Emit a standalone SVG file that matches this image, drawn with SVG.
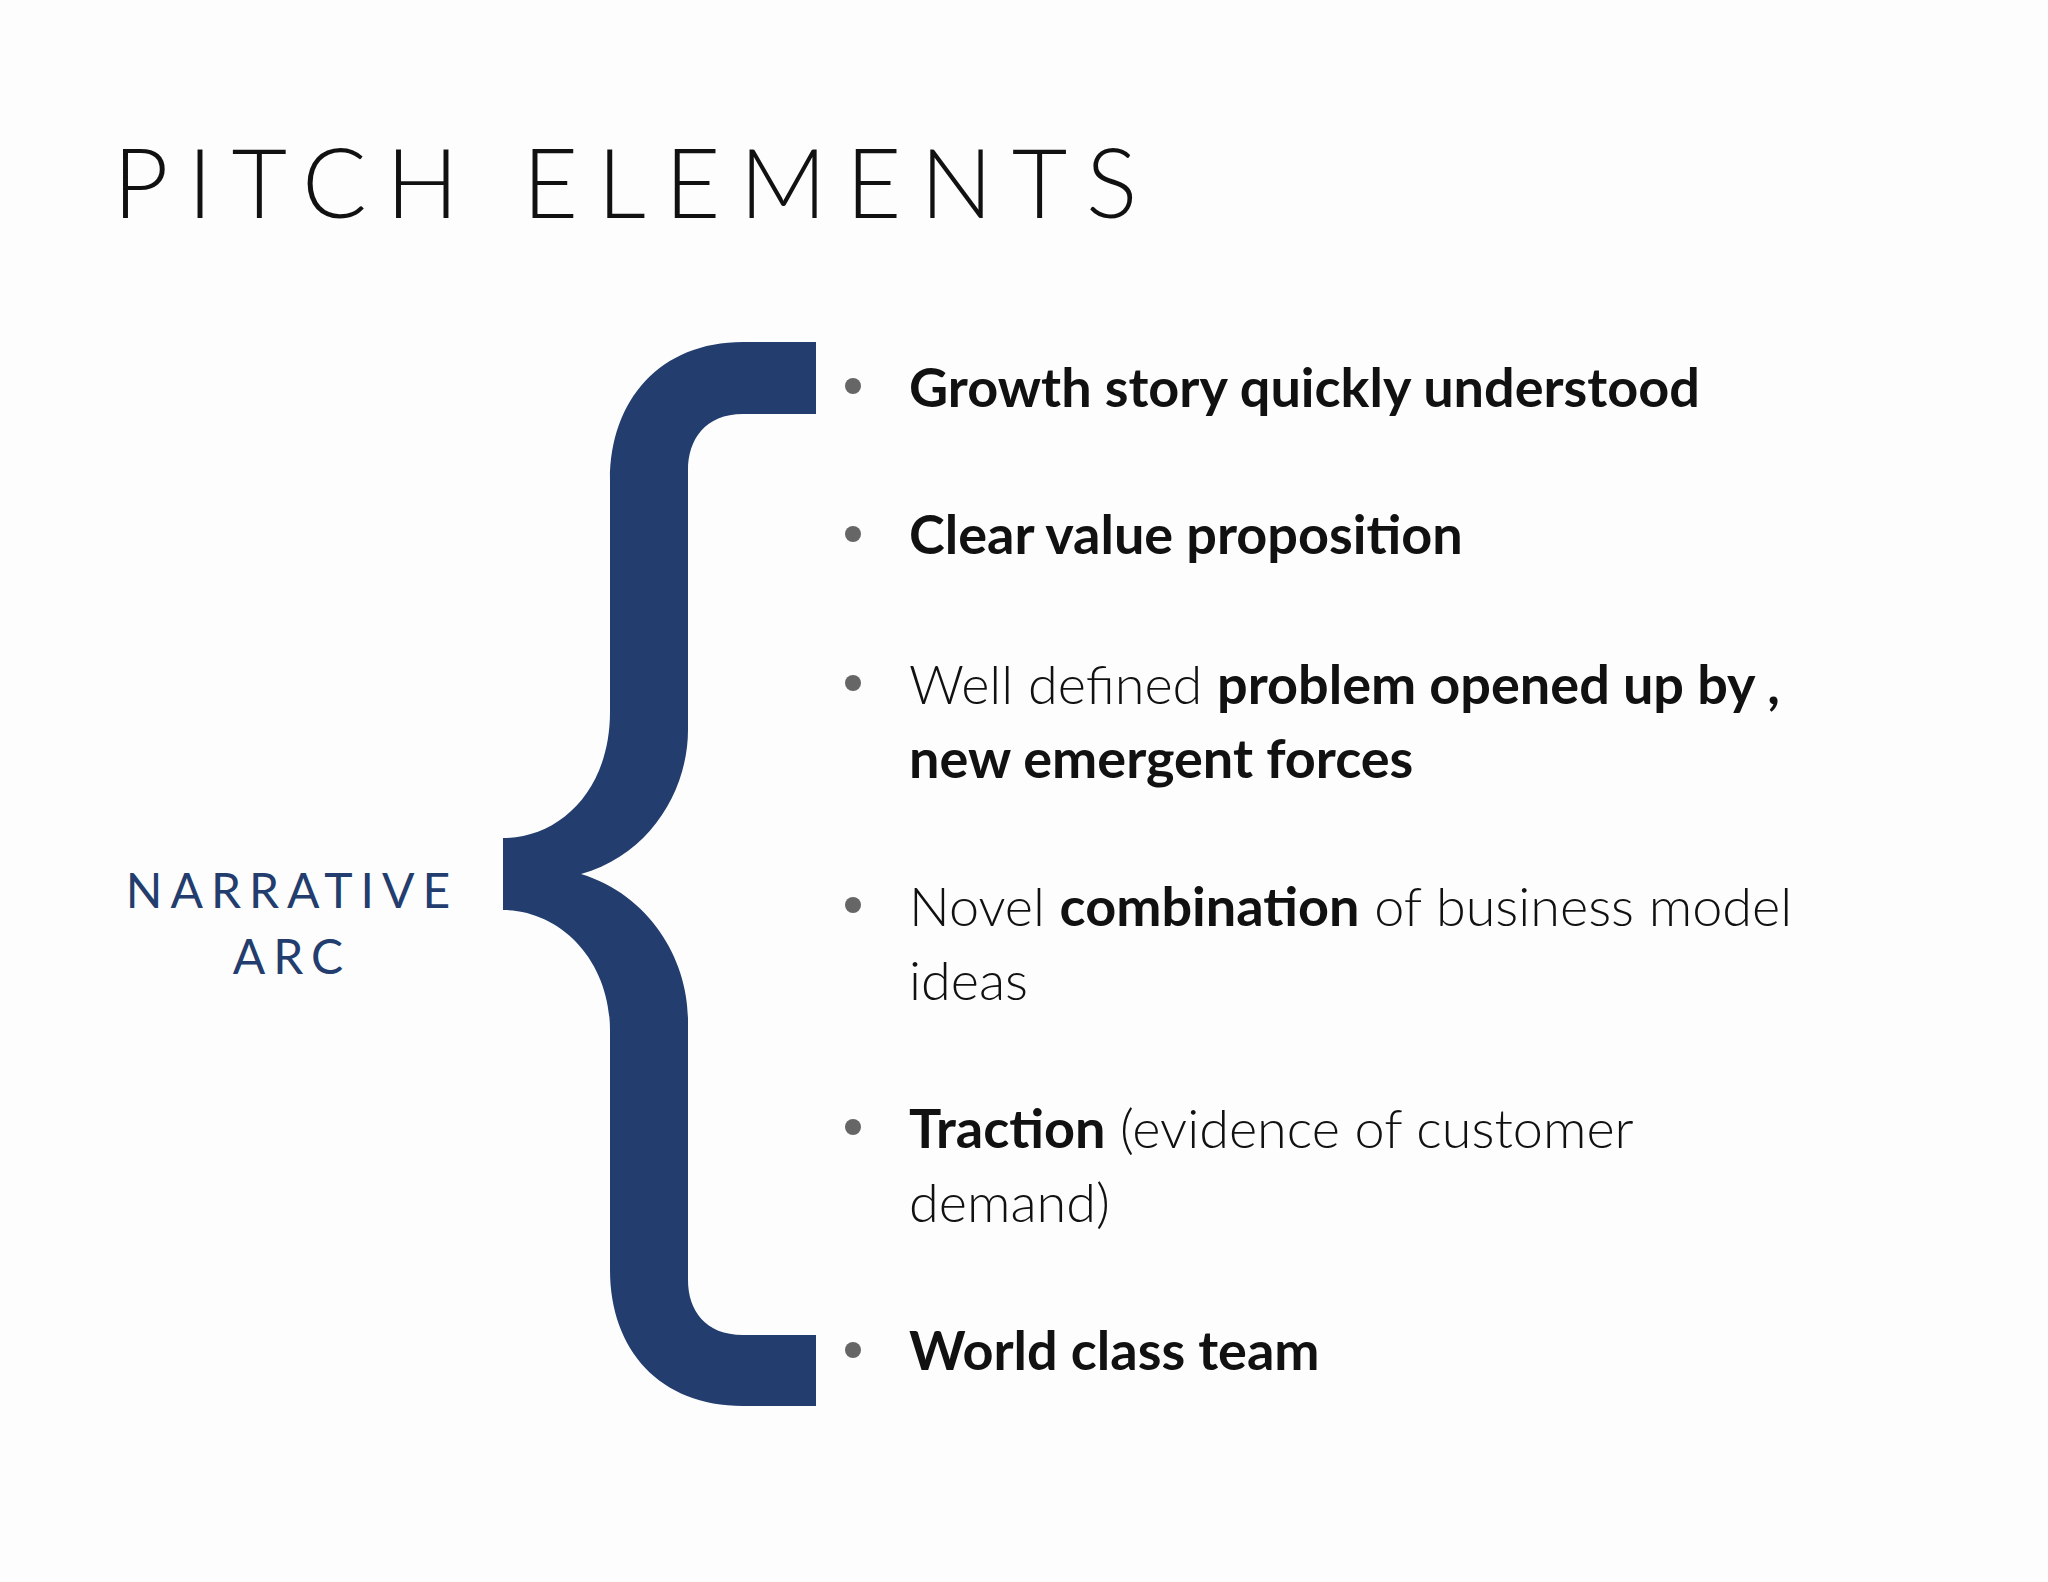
<svg xmlns="http://www.w3.org/2000/svg" width="2048" height="1582" viewBox="0 0 2048 1582">
<style>
.t{font-family:Lato,"Noto Sans",sans-serif;font-size:54px;fill:#111;font-weight:300}
.b{font-weight:700}
.dot{fill:#666}
</style>
<rect width="2048" height="1582" fill="#fdfdfd"/>
<text x="113" y="218" font-family="Lato,'Noto Sans',sans-serif" font-size="96" font-weight="300" letter-spacing="19" fill="#111">PITCH ELEMENTS</text>
<g id="brace">
<path fill="#223d6e" d="M816,342 L743,342 C660,342 610,400 610,480 L610,712 C610,790 560,838 503,838 L503,910 C560,910 610,960 610,1030 L610,1270 C610,1350 660,1406 743,1406 L816,1406 L816,1335 L743,1335 C705,1335 688,1310 688,1280 L688,1020 C688,960 650,895 581,874 C650,855 688,790 688,730 L688,470 C688,440 705,414 743,414 L816,414 Z"/>
</g>
<g id="label" font-family="Lato,'Noto Sans',sans-serif" font-size="48" fill="#223d6e" letter-spacing="8" text-anchor="middle">
<text x="292" y="908">NARRATIVE</text>
<text x="292" y="974">ARC</text>
</g>
<g id="items">
<circle class="dot" cx="853" cy="386" r="8"/>
<text class="t b" x="909" y="407">Growth story quickly understood</text>
<circle class="dot" cx="853" cy="534" r="8"/>
<text class="t b" x="909" y="554">Clear value proposition</text>
<circle class="dot" cx="853" cy="683" r="8"/>
<text class="t" x="909" y="704">Well defined <tspan class="b">problem opened up by ,</tspan></text>
<text class="t b" x="909" y="778">new emergent forces</text>
<circle class="dot" cx="853" cy="905" r="8"/>
<text class="t" x="909" y="926">Novel <tspan class="b">combination</tspan> of business model</text>
<text class="t" x="909" y="1000">ideas</text>
<circle class="dot" cx="853" cy="1127" r="8"/>
<text class="t" x="909" y="1148"><tspan class="b">Traction</tspan> (evidence of customer</text>
<text class="t" x="909" y="1222">demand)</text>
<circle class="dot" cx="853" cy="1350" r="8"/>
<text class="t b" x="909" y="1370">World class team</text>
</g>
</svg>
